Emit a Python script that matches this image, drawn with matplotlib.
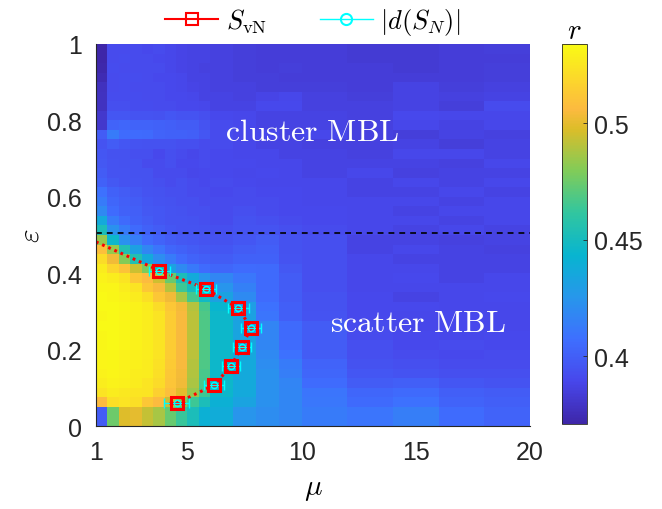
import numpy as np
import matplotlib
matplotlib.use("Agg")
from matplotlib import pyplot as plt
from matplotlib.colors import LinearSegmentedColormap
from matplotlib.lines import Line2D

# grid of the r map (cell edges)
mu_edges = [1, 1.5, 2, 2.5, 3, 3.5, 4, 4.5, 5, 5.5, 6, 7, 8, 9, 10, 12, 14, 16, 18, 20]
eps_edges = [0, 0.05, 0.075, 0.1, 0.125, 0.15, 0.175, 0.2, 0.225, 0.25, 0.275, 0.3, 0.325,
             0.35, 0.375, 0.4, 0.425, 0.45, 0.475, 0.5, 0.525, 0.55, 0.575, 0.6, 0.625, 0.65,
             0.675, 0.7, 0.725, 0.75, 0.775, 0.8, 0.825, 0.85, 0.875, 0.9, 0.925, 0.95, 0.975, 1.0]

# mean gap ratio r, rows listed from eps=1 (top) down to eps=0
r_rows = [
    [.371, .391, .391, .391, .390, .391, .389, .388, .387, .387, .386, .385, .384, .384, .384, .383, .383, .384, .385],
    [.371, .391, .392, .391, .391, .390, .389, .388, .387, .387, .386, .385, .384, .384, .384, .383, .383, .384, .384],
    [.372, .392, .391, .391, .391, .391, .389, .388, .387, .386, .386, .385, .384, .385, .384, .384, .383, .384, .385],
    [.374, .391, .392, .392, .391, .390, .390, .389, .387, .387, .386, .385, .385, .384, .384, .384, .384, .384, .385],
    [.377, .391, .392, .391, .391, .391, .390, .389, .388, .387, .386, .386, .385, .385, .385, .384, .387, .385, .386],
    [.378, .392, .392, .392, .391, .391, .390, .390, .389, .387, .387, .386, .388, .389, .386, .385, .387, .386, .387],
    [.378, .393, .393, .392, .392, .391, .391, .390, .390, .389, .387, .387, .390, .390, .386, .386, .387, .385, .391],
    [.381, .396, .396, .395, .395, .394, .396, .395, .395, .393, .390, .389, .387, .387, .387, .386, .390, .389, .389],
    [.381, .402, .403, .402, .402, .401, .400, .399, .399, .395, .391, .390, .387, .387, .387, .386, .389, .387, .389],
    [.399, .413, .406, .406, .405, .402, .401, .401, .400, .396, .391, .389, .389, .387, .389, .386, .385, .387, .386],
    [.395, .399, .396, .395, .394, .394, .394, .393, .393, .391, .391, .389, .387, .387, .386, .386, .387, .385, .387],
    [.396, .394, .394, .393, .393, .390, .393, .391, .389, .391, .390, .389, .389, .387, .387, .386, .389, .389, .387],
    [.397, .395, .394, .394, .391, .391, .393, .390, .390, .391, .390, .390, .389, .389, .387, .387, .387, .386, .389],
    [.399, .395, .395, .394, .394, .391, .391, .391, .389, .390, .390, .389, .390, .389, .387, .389, .386, .387, .387],
    [.401, .397, .395, .395, .394, .393, .391, .393, .391, .390, .391, .390, .389, .389, .389, .387, .389, .387, .389],
    [.408, .401, .399, .397, .395, .394, .393, .393, .391, .391, .390, .391, .390, .390, .389, .387, .387, .389, .387],
    [.413, .403, .400, .399, .396, .395, .394, .393, .393, .391, .391, .391, .391, .390, .389, .389, .389, .387, .389],
    [.419, .406, .401, .400, .397, .396, .395, .394, .393, .393, .391, .393, .391, .390, .390, .389, .387, .389, .389],
    [.436, .413, .405, .401, .399, .396, .395, .395, .394, .393, .391, .394, .393, .391, .390, .389, .389, .387, .389],
    [.452, .423, .413, .405, .401, .399, .396, .395, .395, .394, .393, .395, .395, .393, .391, .389, .387, .389, .387],
    [.484, .446, .423, .414, .406, .402, .399, .397, .396, .395, .394, .396, .399, .394, .393, .387, .387, .386, .387],
    [.508, .484, .455, .431, .418, .410, .403, .401, .399, .397, .396, .399, .400, .394, .393, .387, .389, .387, .386],
    [.521, .503, .480, .455, .436, .421, .413, .406, .402, .400, .399, .401, .401, .395, .393, .389, .387, .387, .387],
    [.527, .518, .510, .494, .478, .450, .432, .420, .412, .406, .403, .406, .405, .397, .393, .389, .389, .387, .387],
    [.530, .528, .524, .512, .506, .495, .474, .452, .437, .425, .418, .411, .405, .399, .393, .389, .390, .387, .389],
    [.532, .531, .528, .524, .512, .505, .490, .464, .450, .438, .425, .415, .405, .399, .393, .389, .389, .389, .389],
    [.533, .532, .530, .527, .522, .512, .503, .487, .466, .448, .432, .420, .406, .399, .394, .390, .387, .389, .390],
    [.533, .533, .532, .530, .527, .521, .512, .504, .490, .466, .444, .430, .408, .400, .394, .390, .390, .389, .389],
    [.532, .533, .531, .530, .528, .524, .514, .505, .491, .468, .446, .432, .410, .400, .395, .390, .389, .390, .389],
    [.533, .533, .532, .530, .528, .524, .514, .505, .491, .468, .446, .433, .417, .405, .399, .391, .389, .390, .389],
    [.532, .533, .532, .530, .528, .524, .514, .505, .491, .468, .446, .434, .417, .405, .399, .391, .390, .389, .390],
    [.532, .533, .531, .530, .528, .524, .514, .505, .491, .468, .446, .434, .418, .406, .399, .393, .390, .391, .390],
    [.531, .532, .530, .529, .528, .524, .514, .505, .491, .468, .446, .435, .419, .408, .399, .393, .391, .390, .391],
    [.531, .532, .530, .529, .527, .523, .513, .505, .490, .468, .446, .436, .421, .413, .402, .394, .393, .391, .391],
    [.530, .531, .530, .528, .527, .522, .512, .504, .489, .467, .446, .436, .423, .414, .403, .396, .395, .393, .393],
    [.528, .530, .529, .527, .525, .520, .511, .503, .488, .466, .446, .436, .423, .417, .406, .399, .400, .396, .395],
    [.524, .527, .526, .525, .524, .516, .508, .499, .484, .464, .445, .436, .423, .418, .410, .403, .405, .400, .399],
    [.506, .522, .524, .522, .512, .506, .494, .480, .464, .452, .441, .433, .423, .418, .411, .405, .408, .402, .400],
    [.399, .475, .498, .500, .493, .487, .474, .463, .452, .441, .438, .425, .421, .418, .413, .410, .414, .406, .402],
]

# transition points
eps_pts = [0.060, 0.107, 0.157, 0.207, 0.257, 0.308, 0.359, 0.407]
mu_svn = [4.53, 6.17, 6.91, 7.38, 7.79, 7.23, 5.82, 3.77]
mu_svn_err = [0.35, 0.30, 0.28, 0.30, 0.32, 0.30, 0.30, 0.32]
mu_dsn = [4.53, 6.17, 6.91, 7.38, 7.79, 7.23, 5.82, 3.77]
mu_dsn_err = [0.55, 0.45, 0.40, 0.40, 0.42, 0.45, 0.45, 0.47]

# dotted guide through the S_vN points
guide_mu = [1.0, 3.77, 5.82, 7.23, 7.79, 7.38, 6.91, 6.17, 4.53]
guide_eps = [0.482, 0.407, 0.359, 0.308, 0.257, 0.207, 0.157, 0.107, 0.060]

eps_cluster = 0.506

# approximate MATLAB parula
parula = LinearSegmentedColormap.from_list("parula", [
    (0.0, (0.2422, 0.1504, 0.6603)),
    (0.111, (0.2803, 0.2782, 0.9221)),
    (0.222, (0.2440, 0.4358, 0.9988)),
    (0.333, (0.1540, 0.5902, 0.9218)),
    (0.444, (0.0297, 0.7082, 0.8163)),
    (0.556, (0.1938, 0.7758, 0.6251)),
    (0.667, (0.5044, 0.7993, 0.3480)),
    (0.778, (0.8634, 0.7406, 0.1596)),
    (0.83, (0.9900, 0.7300, 0.2500)),
    (0.889, (0.9892, 0.8136, 0.1885)),
    (1.0, (0.9769, 0.9839, 0.0805)),
], N=256)


def main():
    plt.rcParams["font.family"] = ["Liberation Sans", "DejaVu Sans"]
    plt.rcParams["mathtext.fontset"] = "cm"
    tick_color = "#262626"

    fig = plt.figure(figsize=(6.62, 5.10), dpi=100)
    ax = fig.add_axes([0.145, 0.1627, 0.6556, 0.7491])
    cax = fig.add_axes([0.849, 0.1667, 0.0378, 0.7451])

    r = np.array(r_rows)[::-1]
    mesh = ax.pcolormesh(mu_edges, eps_edges, r, cmap=parula, vmin=0.371, vmax=0.534)

    ax.axhline(eps_cluster, color="k", lw=1.2, ls=(0, (3.5, 3)))
    ax.plot(guide_mu, guide_eps, color="r", lw=2.2, ls=(0, (0.9, 1.3)))

    ax.errorbar(mu_svn, eps_pts, xerr=mu_svn_err, fmt="s", color="r", ms=8.5, mfc="none",
                mew=2.2, elinewidth=2.2, capsize=0)
    ax.errorbar(mu_dsn, eps_pts, xerr=mu_dsn_err, fmt="o", color="cyan", ms=4.5, mfc="none",
                mew=1.0, elinewidth=1.0, capsize=3.5, capthick=1.0)

    ax.text(10.46, 0.77, r"$\mathrm{cluster\ MBL}$", color="w", fontsize=23, ha="center", va="center")
    ax.text(15.1, 0.27, r"$\mathrm{scatter\ MBL}$", color="w", fontsize=23, ha="center", va="center")

    ax.set_xlim(1, 20)
    ax.set_ylim(0, 1)
    ax.set_xticks([1, 5, 10, 15, 20])
    ax.set_xticklabels(["1", "5", "10", "15", "20"])
    ax.set_yticks([0, 0.2, 0.4, 0.6, 0.8, 1])
    ax.set_yticklabels(["0", "0.2", "0.4", "0.6", "0.8", "1"])
    ax.tick_params(length=0, labelsize=18, colors=tick_color, pad=10)
    ax.set_xlabel(r"$\mu$", fontsize=21, labelpad=7)
    ax.set_ylabel(r"$\varepsilon$", fontsize=21, labelpad=2)
    for side in ["top", "right"]:
        ax.spines[side].set_visible(False)
    for side in ["left", "bottom"]:
        ax.spines[side].set_color(tick_color)
        ax.spines[side].set_linewidth(0.8)

    handles = [
        Line2D([], [], color="r", lw=1.5, marker="s", ms=8, mfc="none", mew=1.5),
        Line2D([], [], color="cyan", lw=1.0, marker="o", ms=8, mfc="none", mew=1.5),
    ]
    ax.legend(handles, [r"$S_{\rm vN}$", r"$|d(S_N)|$"], loc="lower center",
              bbox_to_anchor=(0.5, 0.99), ncol=2, frameon=False, fontsize=19,
              handlelength=2.0, handletextpad=0.3, columnspacing=2.0, borderaxespad=0.0)

    cbar = fig.colorbar(mesh, cax=cax)
    cbar.set_ticks([0.4, 0.45, 0.5])
    cbar.set_ticklabels(["0.4", "0.45", "0.5"])
    cbar.ax.tick_params(direction="in", length=3, width=0.6, labelsize=18, colors=tick_color, pad=5)
    cbar.outline.set_linewidth(0.6)
    cbar.outline.set_edgecolor(tick_color)
    cbar.ax.set_title(r"$r$", fontsize=21, pad=4)

    fig.savefig("out.png", dpi=100)


if __name__ == "__main__":
    main()
